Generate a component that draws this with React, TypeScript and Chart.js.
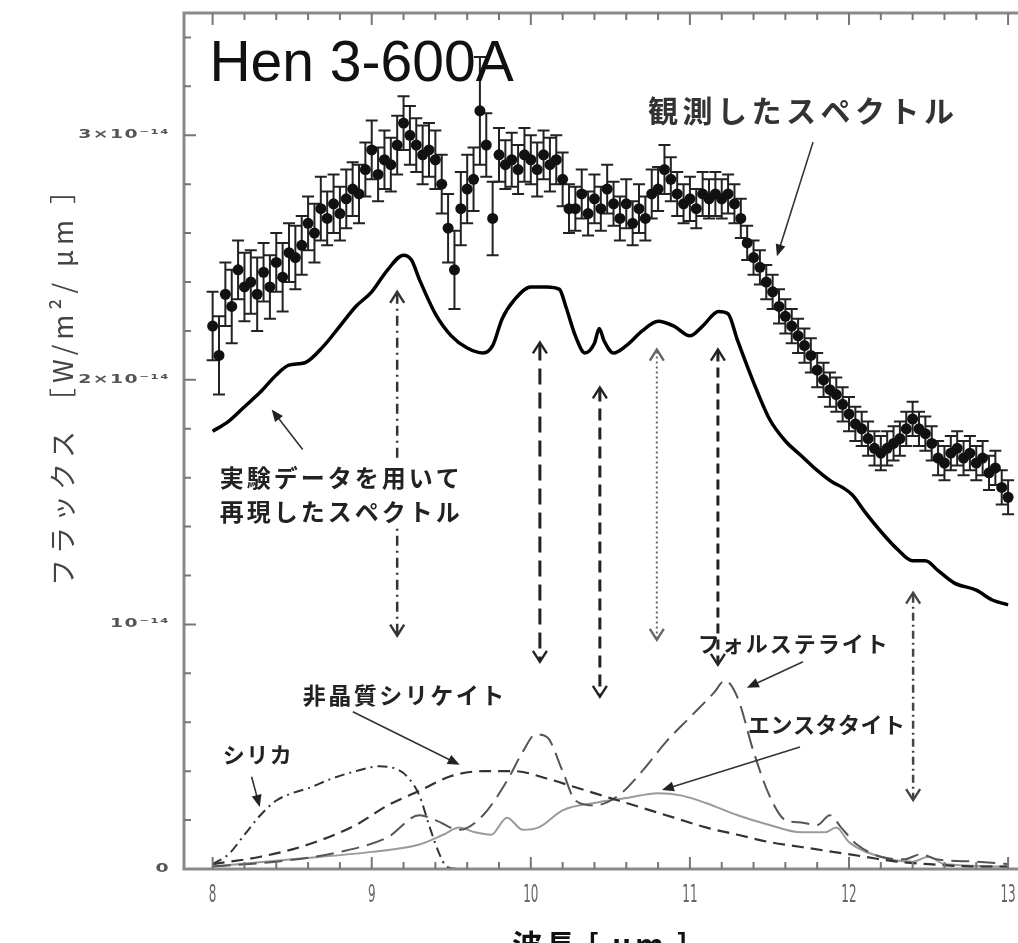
import React, { useEffect, useRef } from 'react';
import { Chart, registerables } from 'chart.js';

Chart.register(...registerables);

// ---------- axis ranges / ticks ----------
const X_MIN = 7.82;
const X_MAX = 13.1;
const Y_MIN = 0;
const Y_MAX = 3.5;

const xTickValues = [8, 9, 10, 11, 12, 13];
const xTickLabels = ['8', '9', '10', '11', '12', '13'];
const yTickValues = [0, 1, 2, 3];
const yTickLabels = ['0', '10⁻¹⁴', '2×10⁻¹⁴', '3×10⁻¹⁴'];

// ---------- observed spectrum (flux in 1e-14 W/m²/μm) ----------
const obsWavelength = [
  8.00, 8.04, 8.08, 8.12, 8.16, 8.20, 8.24, 8.28, 8.32, 8.36,
  8.40, 8.44, 8.48, 8.52, 8.56, 8.60, 8.64, 8.68, 8.72, 8.76,
  8.80, 8.84, 8.88, 8.92, 8.96, 9.00, 9.04, 9.08, 9.12, 9.16,
  9.20, 9.24, 9.28, 9.32, 9.36, 9.40, 9.44, 9.48, 9.52, 9.56,
  9.60, 9.64, 9.68, 9.72, 9.76, 9.80, 9.84, 9.88, 9.92, 9.96,
  10.00, 10.04, 10.08, 10.12, 10.16, 10.20, 10.24, 10.28, 10.32, 10.36,
  10.40, 10.44, 10.48, 10.52, 10.56, 10.60, 10.64, 10.68, 10.72, 10.76,
  10.80, 10.84, 10.88, 10.92, 10.96, 11.00, 11.04, 11.08, 11.12, 11.16,
  11.20, 11.24, 11.28, 11.32, 11.36, 11.40, 11.44, 11.48, 11.52, 11.56,
  11.60, 11.64, 11.68, 11.72, 11.76, 11.80, 11.84, 11.88, 11.92, 11.96,
  12.00, 12.04, 12.08, 12.12, 12.16, 12.20, 12.24, 12.28, 12.32, 12.36,
  12.40, 12.44, 12.48, 12.52, 12.56, 12.60, 12.64, 12.68, 12.72, 12.76,
  12.80, 12.84, 12.88, 12.92, 12.96, 13.00,
];
const obsFlux = [
  2.22, 2.10, 2.35, 2.30, 2.45, 2.38, 2.40, 2.35, 2.44, 2.38,
  2.48, 2.42, 2.52, 2.50, 2.55, 2.64, 2.60, 2.70, 2.66, 2.72,
  2.68, 2.74, 2.78, 2.76, 2.86, 2.94, 2.84, 2.90, 2.88, 2.96,
  3.05, 3.00, 2.96, 2.92, 2.94, 2.90, 2.80, 2.62, 2.45, 2.70,
  2.78, 2.82, 3.10, 2.96, 2.66, 2.92, 2.88, 2.90, 2.86, 2.92,
  2.90, 2.86, 2.92, 2.88, 2.90, 2.82, 2.70, 2.70, 2.76, 2.68,
  2.74, 2.70, 2.78, 2.72, 2.66, 2.72, 2.64, 2.70, 2.66, 2.76,
  2.78, 2.86, 2.82, 2.76, 2.72, 2.74, 2.70, 2.76, 2.74, 2.76,
  2.74, 2.76, 2.72, 2.66, 2.56, 2.50, 2.46, 2.40, 2.36, 2.30,
  2.26, 2.22, 2.18, 2.14, 2.10, 2.04, 2.00, 1.96, 1.94, 1.90,
  1.86, 1.82, 1.80, 1.76, 1.72, 1.70, 1.72, 1.74, 1.76, 1.80,
  1.84, 1.80, 1.78, 1.74, 1.68, 1.66, 1.70, 1.72, 1.68, 1.70,
  1.66, 1.68, 1.62, 1.64, 1.56, 1.52,
];
const obsError = [
  0.14, 0.16, 0.13, 0.15, 0.12, 0.14, 0.13, 0.15, 0.12, 0.13,
  0.12, 0.14, 0.12, 0.13, 0.12, 0.11, 0.12, 0.13, 0.11, 0.12,
  0.11, 0.12, 0.11, 0.12, 0.11, 0.12, 0.11, 0.12, 0.11, 0.12,
  0.11, 0.12, 0.11, 0.12, 0.11, 0.12, 0.12, 0.14, 0.16, 0.15,
  0.14, 0.13, 0.22, 0.13, 0.15, 0.11, 0.10, 0.11, 0.10, 0.11,
  0.10, 0.11, 0.10, 0.11, 0.10, 0.11, 0.10, 0.09, 0.10, 0.09,
  0.10, 0.09, 0.10, 0.09, 0.09, 0.10, 0.09, 0.10, 0.09, 0.10,
  0.09, 0.10, 0.09, 0.09, 0.08, 0.09, 0.08, 0.09, 0.08, 0.09,
  0.08, 0.08, 0.08, 0.08, 0.07, 0.07, 0.07, 0.07, 0.07, 0.07,
  0.07, 0.07, 0.07, 0.07, 0.07, 0.07, 0.07, 0.07, 0.07, 0.07,
  0.07, 0.07, 0.07, 0.07, 0.07, 0.07, 0.07, 0.07, 0.07, 0.07,
  0.07, 0.07, 0.07, 0.07, 0.07, 0.07, 0.07, 0.07, 0.07, 0.07,
  0.07, 0.07, 0.07, 0.07, 0.07, 0.07,
];

// ---------- model spectrum ----------
const modelWavelength = [
  8.00, 8.10, 8.20, 8.30, 8.40, 8.48, 8.58, 8.70, 8.80, 8.90,
  9.00, 9.10, 9.20, 9.25, 9.30, 9.40, 9.50, 9.60, 9.70, 9.76,
  9.82, 9.90, 10.00, 10.10, 10.18, 10.22, 10.28, 10.34, 10.40, 10.43,
  10.46, 10.52, 10.60, 10.70, 10.80, 10.90, 11.00, 11.08, 11.18, 11.24,
  11.30, 11.40, 11.50, 11.60, 11.70, 11.80, 11.90, 11.96, 12.02, 12.10,
  12.20, 12.30, 12.40, 12.48, 12.56, 12.66, 12.80, 12.90, 13.00,
];
const modelFlux = [
  1.79, 1.83, 1.89, 1.95, 2.02, 2.06, 2.07, 2.14, 2.22, 2.30,
  2.36, 2.45, 2.51, 2.49, 2.41, 2.27, 2.18, 2.13, 2.11, 2.14,
  2.25, 2.33, 2.38, 2.38, 2.37, 2.30, 2.18, 2.11, 2.15, 2.21,
  2.16, 2.11, 2.14, 2.20, 2.24, 2.22, 2.18, 2.22, 2.28, 2.27,
  2.16, 1.99, 1.84, 1.75, 1.69, 1.63, 1.58, 1.56, 1.53, 1.46,
  1.38, 1.31, 1.26, 1.26, 1.22, 1.17, 1.14, 1.10, 1.08,
];

// ---------- components ----------
const silicaWavelength = [8.00, 8.10, 8.20, 8.30, 8.40, 8.50, 8.60, 8.75, 8.90, 9.05, 9.15, 9.22, 9.30, 9.36, 9.42, 9.47, 9.55];
const silicaFlux = [0.02, 0.06, 0.14, 0.22, 0.28, 0.31, 0.33, 0.37, 0.40, 0.42, 0.41, 0.38, 0.30, 0.18, 0.07, 0.01, 0.0];

const amorphousWavelength = [8.00, 8.30, 8.60, 8.90, 9.10, 9.30, 9.50, 9.70, 9.90, 10.10, 10.30, 10.50, 10.70, 10.90, 11.10, 11.30, 11.50, 11.70, 11.90, 12.10, 12.30, 12.50, 12.80, 13.00];
const amorphousFlux = [0.02, 0.05, 0.10, 0.18, 0.26, 0.32, 0.38, 0.40, 0.40, 0.37, 0.33, 0.29, 0.25, 0.21, 0.17, 0.14, 0.11, 0.09, 0.07, 0.05, 0.03, 0.02, 0.01, 0.01];

const forsteriteWavelength = [8.00, 8.40, 8.80, 9.10, 9.30, 9.40, 9.55, 9.70, 9.85, 9.95, 10.03, 10.10, 10.20, 10.28, 10.40, 10.55, 10.70, 10.85, 11.00, 11.15, 11.22, 11.30, 11.40, 11.50, 11.60, 11.70, 11.80, 11.88, 11.95, 12.05, 12.20, 12.35, 12.45, 12.55, 12.80, 13.00];
const forsteriteFlux = [0.01, 0.03, 0.07, 0.13, 0.22, 0.20, 0.16, 0.22, 0.36, 0.48, 0.55, 0.54, 0.40, 0.28, 0.26, 0.30, 0.40, 0.52, 0.62, 0.72, 0.77, 0.70, 0.48, 0.30, 0.20, 0.19, 0.18, 0.22, 0.17, 0.10, 0.05, 0.04, 0.06, 0.04, 0.03, 0.02];

const enstatiteWavelength = [8.00, 8.50, 9.00, 9.30, 9.45, 9.55, 9.65, 9.75, 9.85, 9.95, 10.05, 10.20, 10.40, 10.60, 10.80, 10.95, 11.10, 11.30, 11.50, 11.70, 11.85, 11.92, 12.00, 12.20, 12.40, 12.50, 12.60, 13.00];
const enstatiteFlux = [0.01, 0.04, 0.07, 0.10, 0.14, 0.17, 0.15, 0.14, 0.21, 0.16, 0.17, 0.24, 0.27, 0.29, 0.31, 0.30, 0.27, 0.22, 0.18, 0.15, 0.15, 0.17, 0.11, 0.05, 0.03, 0.05, 0.02, 0.01];

// ---------- feature markers (wavelength) ----------
const featureWavelength = [9.16, 10.057, 10.434, 10.792, 11.176, 12.403];
const featureTop = [2.36, 2.153, 1.969, 2.124, 2.124, 1.13];
const featureBottom = [0.954, 0.847, 0.704, 0.937, 0.835, 0.282];

// ---------- annotation texts ----------
const titleText = 'Hen 3-600A';
const labelTexts = ['観測したスペクトル', '実験データを用いて', '再現したスペクトル', '非晶質シリケイト', 'シリカ', 'フォルステライト', 'エンスタタイト'];
const yAxisTitle = 'フラックス ［W/m²/ μm ］';
const xAxisTitle = '波長 [ μm ]';

// layout/style (positions in data coordinates)
const labelStyle = [
  { x: 10.736, y: 3.099, size: 30, spacing: 4.5, color: '#333' },
  { x: 8.044, y: 1.600, size: 24, spacing: 3, color: '#222' },
  { x: 8.044, y: 1.461, size: 24, spacing: 3, color: '#222' },
  { x: 8.566, y: 0.712, size: 23, spacing: 2.5, color: '#222' },
  { x: 8.063, y: 0.467, size: 22, spacing: 1.5, color: '#222' },
  { x: 11.05, y: 0.921, size: 22, spacing: 2, color: '#222' },
  { x: 11.365, y: 0.589, size: 22, spacing: 0.5, color: '#222' },
];
const pointerArrows = [
  [11.774, 2.972, 11.547, 2.505],
  [8.566, 1.715, 8.371, 1.879],
  [8.881, 0.643, 9.553, 0.426],
  [8.245, 0.377, 8.296, 0.254],
  [11.711, 0.847, 11.358, 0.741],
  [11.692, 0.499, 10.824, 0.323],
];
const featureStyle = [
  { dash: [10, 5, 2, 5], color: '#333', width: 2.5 },
  { dash: [16, 8], color: '#222', width: 3 },
  { dash: [12, 7], color: '#222', width: 3 },
  { dash: [2, 3], color: '#666', width: 2 },
  { dash: [10, 6], color: '#222', width: 3 },
  { dash: [8, 4, 2, 4], color: '#444', width: 2.5 },
];

const pts = (xs: number[], ys: number[]) => xs.map((x, i) => ({ x, y: ys[i] }));

function drawText(ctx: CanvasRenderingContext2D, text: string, x: number, y: number, font: string, spacing: number, color: string, align: CanvasTextAlign = 'left', baseline: CanvasTextBaseline = 'middle') {
  ctx.save();
  ctx.font = font;
  (ctx as any).letterSpacing = spacing + 'px';
  ctx.fillStyle = color;
  ctx.textAlign = align;
  ctx.textBaseline = baseline;
  ctx.fillText(text, x, y);
  ctx.restore();
}

function drawPointer(ctx: CanvasRenderingContext2D, x1: number, y1: number, x2: number, y2: number) {
  const ang = Math.atan2(y2 - y1, x2 - x1);
  const hl = 12, hw = 5;
  ctx.save();
  ctx.strokeStyle = '#333';
  ctx.fillStyle = '#222';
  ctx.lineWidth = 1.6;
  ctx.beginPath();
  ctx.moveTo(x1, y1);
  ctx.lineTo(x2 - Math.cos(ang) * hl * 0.8, y2 - Math.sin(ang) * hl * 0.8);
  ctx.stroke();
  ctx.beginPath();
  ctx.moveTo(x2, y2);
  ctx.lineTo(x2 - Math.cos(ang) * hl - Math.sin(ang) * hw, y2 - Math.sin(ang) * hl + Math.cos(ang) * hw);
  ctx.lineTo(x2 - Math.cos(ang) * hl + Math.sin(ang) * hw, y2 - Math.sin(ang) * hl - Math.cos(ang) * hw);
  ctx.closePath();
  ctx.fill();
  ctx.restore();
}

const decorPlugin = {
  id: 'decor',
  beforeDatasetsDraw(chart: any) {
    const ctx: CanvasRenderingContext2D = chart.ctx;
    const ys = chart.scales.y;
    const meta = chart.getDatasetMeta(0);
    ctx.save();
    ctx.strokeStyle = '#222';
    ctx.lineWidth = 2;
    meta.data.forEach((pt: any, i: number) => {
      const px = pt.x;
      const top = ys.getPixelForValue(obsFlux[i] + obsError[i]);
      const bot = ys.getPixelForValue(obsFlux[i] - obsError[i]);
      ctx.beginPath();
      ctx.moveTo(px, top);
      ctx.lineTo(px, bot);
      ctx.moveTo(px - 6, top);
      ctx.lineTo(px + 6, top);
      ctx.moveTo(px - 6, bot);
      ctx.lineTo(px + 6, bot);
      ctx.stroke();
    });
    ctx.restore();
  },
  afterDraw(chart: any) {
    const ctx: CanvasRenderingContext2D = chart.ctx;
    const xs = chart.scales.x;
    const ys = chart.scales.y;
    const area = chart.chartArea;
    const X = (v: number) => xs.getPixelForValue(v);
    const Y = (v: number) => ys.getPixelForValue(v);

    // frame
    ctx.save();
    ctx.strokeStyle = '#8a8a8a';
    ctx.lineWidth = 3;
    ctx.beginPath();
    ctx.moveTo(area.right, area.top);
    ctx.lineTo(area.left, area.top);
    ctx.lineTo(area.left, area.bottom);
    ctx.lineTo(area.right, area.bottom);
    ctx.stroke();

    // inward ticks
    ctx.strokeStyle = '#777';
    ctx.lineWidth = 2;
    ctx.beginPath();
    for (let k = 40; k <= 65; k++) {
      const px = X(k / 5);
      const len = k % 5 === 0 ? 12 : 7;
      ctx.moveTo(px, area.bottom);
      ctx.lineTo(px, area.bottom - len);
      ctx.moveTo(px, area.top);
      ctx.lineTo(px, area.top + len);
    }
    for (let k = 1; k <= 17; k++) {
      const py = Y(k / 5);
      const len = k % 5 === 0 ? 12 : 7;
      ctx.moveTo(area.left, py);
      ctx.lineTo(area.left + len, py);
    }
    ctx.stroke();
    ctx.restore();

    // tick labels
    xTickValues.forEach((v, i) => {
      ctx.save();
      ctx.translate(X(v), area.bottom + 27);
      ctx.scale(0.75, 1.55);
      drawText(ctx, xTickLabels[i], 0, 0, '16px "DejaVu Sans"', 0, '#666', 'center', 'middle');
      ctx.restore();
    });
    yTickValues.forEach((v, i) => {
      ctx.save();
      ctx.translate(area.left - 14, Y(v));
      ctx.scale(1.45, 0.9);
      drawText(ctx, yTickLabels[i], 0, 0, 'bold 13px "DejaVu Sans"', 1, '#555', 'right', 'middle');
      ctx.restore();
    });

    // feature markers (double-headed vertical arrows)
    featureWavelength.forEach((w, i) => {
      const st = featureStyle[i];
      const px = X(w);
      const t = Y(featureTop[i]);
      const b = Y(featureBottom[i]);
      ctx.save();
      ctx.strokeStyle = st.color;
      ctx.lineWidth = st.width;
      ctx.setLineDash(st.dash);
      ctx.beginPath();
      ctx.moveTo(px, t + 2);
      ctx.lineTo(px, b - 2);
      ctx.stroke();
      ctx.setLineDash([]);
      ctx.lineWidth = 2.4;
      ctx.beginPath();
      ctx.moveTo(px - 7, t + 11);
      ctx.lineTo(px, t);
      ctx.lineTo(px + 7, t + 11);
      ctx.moveTo(px - 7, b - 11);
      ctx.lineTo(px, b);
      ctx.lineTo(px + 7, b - 11);
      ctx.stroke();
      ctx.restore();
    });

    // white background behind model label (interrupts marker line)
    ctx.save();
    ctx.fillStyle = '#fff';
    const lx = X(labelStyle[1].x) - 4;
    const ly1 = Y(labelStyle[1].y) - 16;
    const ly2 = Y(labelStyle[2].y) + 16;
    ctx.fillRect(lx, ly1, 252, ly2 - ly1);
    ctx.restore();

    // labels
    labelTexts.forEach((txt, i) => {
      const st = labelStyle[i];
      drawText(ctx, txt, X(st.x), Y(st.y), `bold ${st.size}px "Noto Sans CJK JP"`, st.spacing, st.color, 'left', 'middle');
    });

    // pointer arrows
    pointerArrows.forEach((a) => drawPointer(ctx, X(a[0]), Y(a[1]), X(a[2]), Y(a[3])));

    // title
    drawText(ctx, titleText, X(7.98), Y(3.22), '57px "Liberation Sans"', 0, '#111', 'left', 'alphabetic');

    // y axis title
    ctx.save();
    ctx.translate(63, 379);
    ctx.rotate(-Math.PI / 2);
    drawText(ctx, yAxisTitle, 0, 0, '27px "Noto Sans CJK JP"', 5, '#444', 'center', 'middle');
    ctx.restore();

    // x axis title (cropped at bottom)
    drawText(ctx, xAxisTitle, 512, 930, 'bold 30px "Noto Sans CJK JP"', 3, '#111', 'left', 'top');
  },
};

export default function App() {
  const canvasRef = useRef<HTMLCanvasElement | null>(null);

  useEffect(() => {
    if (!canvasRef.current) return;
    const lineBase = { showLine: true, pointRadius: 0, cubicInterpolationMode: 'monotone' as const, fill: false };
    const chart = new Chart(canvasRef.current, {
      type: 'scatter',
      data: {
        datasets: [
          {
            label: 'observed',
            data: pts(obsWavelength, obsFlux),
            showLine: false,
            pointRadius: 5.5,
            pointBackgroundColor: '#111',
            pointBorderColor: '#111',
            pointBorderWidth: 0,
          },
          { ...lineBase, label: 'model', data: pts(modelWavelength, modelFlux), borderColor: '#000', borderWidth: 3.5 },
          { ...lineBase, label: 'silica', data: pts(silicaWavelength, silicaFlux), borderColor: '#333', borderWidth: 2, borderDash: [10, 5, 2, 5] },
          { ...lineBase, label: 'amorphous', data: pts(amorphousWavelength, amorphousFlux), borderColor: '#333', borderWidth: 2.2, borderDash: [12, 7] },
          { ...lineBase, label: 'forsterite', data: pts(forsteriteWavelength, forsteriteFlux), borderColor: '#555', borderWidth: 2, borderDash: [18, 8] },
          { ...lineBase, label: 'enstatite', data: pts(enstatiteWavelength, enstatiteFlux), borderColor: '#9a9a9a', borderWidth: 2 },
        ],
      },
      options: {
        animation: false,
        responsive: false,
        maintainAspectRatio: false,
        layout: { padding: { left: 0, right: 6, top: 13, bottom: 0 } },
        plugins: { legend: { display: false }, tooltip: { enabled: false } },
        scales: {
          x: {
            type: 'linear',
            min: X_MIN,
            max: X_MAX,
            grid: { display: false, drawTicks: false },
            border: { display: false },
            ticks: { display: false },
            afterBuildTicks: (s: any) => { s.ticks = xTickValues.map((v) => ({ value: v })); },
            afterFit: (s: any) => { s.height = 74; },
          },
          y: {
            type: 'linear',
            min: Y_MIN,
            max: Y_MAX,
            grid: { display: false, drawTicks: false },
            border: { display: false },
            ticks: { display: false },
            afterBuildTicks: (s: any) => { s.ticks = yTickValues.map((v) => ({ value: v })); },
            afterFit: (s: any) => { s.width = 184; },
          },
        },
      },
      plugins: [decorPlugin],
    });
    return () => chart.destroy();
  }, []);

  return (
    <div style={{ position: 'absolute', left: 0, top: 0, width: 1018, height: 943, overflow: 'hidden', background: '#fff' }}>
      <canvas ref={canvasRef} width={1030} height={943} style={{ display: 'block' }} />
    </div>
  );
}
